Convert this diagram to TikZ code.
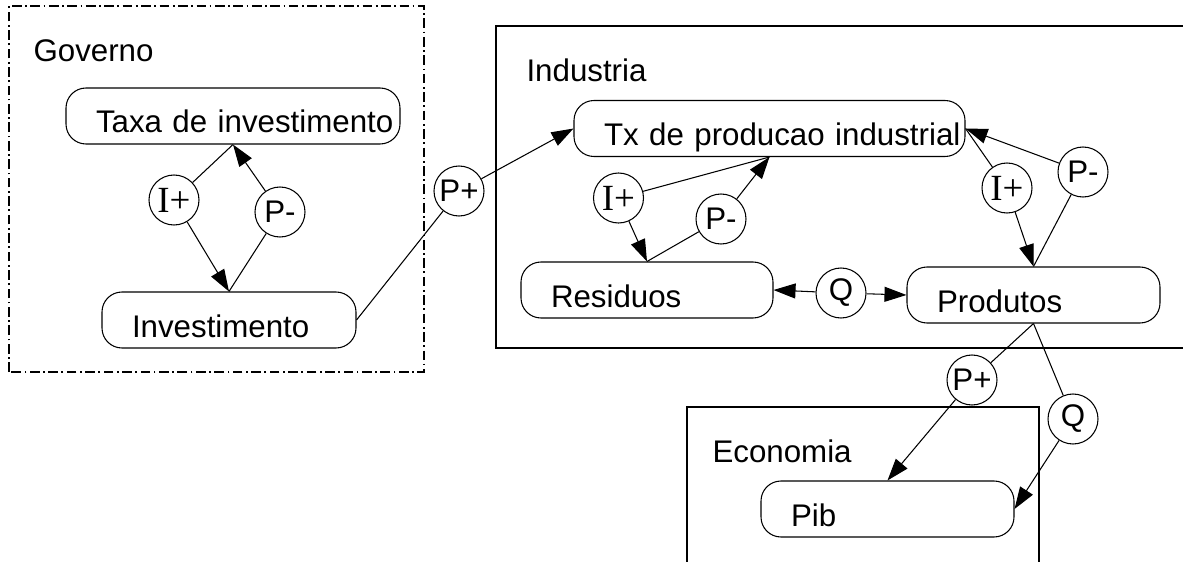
\documentclass[tikz,border=0pt]{standalone}
\usepackage{fontspec}
\setmainfont{Liberation Sans}
\newfontfamily\serifa{Liberation Serif}
\usetikzlibrary{arrows.meta}
\tikzset{
  bloco/.style={draw,rounded corners=0.4cm,minimum height=1.12cm,inner xsep=0pt,inner ysep=0pt,align=left,text height=0.78cm,text depth=0.1cm,execute at begin node={\hspace*{0.6cm}}},
  elo/.style={draw,circle,minimum size=1cm,inner sep=0pt},
  eloi/.style={elo,font=\serifa\fontsize{21}{24}\selectfont},
  rotulo/.style={anchor=base west,inner sep=0pt},
  seta/.style={-{Triangle[length=0.44cm,width=0.3cm]}},
  pontilhado/.style={dash pattern=on 5.5pt off 2pt on 1pt off 2pt}
}

\begin{document}
\begin{tikzpicture}[font=\fontsize{17.8}{21}\selectfont,line width=0.6pt]
\useasboundingbox (0,0) rectangle (23.66,11.22);
\draw[pontilhado] (0.18,3.78) rectangle (8.48,11.10);
\node[rotulo] (governo) at (0.66,9.98) {Governo};
\node[bloco,text width=6.68cm] (taxa) at (4.66,8.90) {Taxa de investimento};
\node[bloco,text width=5.08cm] (inv) at (4.58,4.82) {Investimento};
\node[eloi] (ig) at (3.48,7.22) {I+};
\node[elo] (pg) at (5.60,6.98) {P-};
\draw (taxa.south) -- (ig);
\draw[seta] (ig) -- (inv.north);
\draw (inv.north) -- (pg);
\draw[seta] (pg) -- (taxa.south);

\draw (9.92,4.26) rectangle (24,10.70);
\node[rotulo] (industria) at (10.52,9.58) {Industria};
\node[bloco,text width=7.82cm] (tx) at (15.39,8.65) {Tx de producao industrial};
\node[bloco,text width=5.04cm] (res) at (12.94,5.42) {Residuos};
\node[bloco,text width=5.06cm] (prod) at (20.67,5.32) {Produtos};
\node[elo] (pm) at (9.18,7.40) {P+};
\node[eloi] (ii) at (12.37,7.26) {I+};
\node[elo] (pi) at (14.42,6.84) {P-};
\node[elo] (q) at (16.82,5.36) {Q};
\node[eloi] (ip) at (20.14,7.46) {I+};
\node[elo] (pp) at (21.66,7.78) {P-};
\draw (inv.east) -- (pm);
\draw[seta] (pm) -- (tx.west);
\draw (tx.south) -- (ii);
\draw[seta] (ii) -- (res.north);
\draw (res.north) -- (pi);
\draw[seta] (pi) -- (tx.south);
\draw[seta] (q) -- (res.east);
\draw[seta] (q) -- (prod.west);
\draw (tx.east) -- (ip);
\draw[seta] (ip) -- (prod.north);
\draw (prod.north) -- (pp);
\draw[seta] (pp) -- (tx.east);

\draw (13.74,-0.5) rectangle (20.78,3.08);
\node[rotulo] (economia) at (14.24,1.98) {Economia};
\node[bloco,text width=5.06cm] (pib) at (17.75,1.04) {Pib};
\node[elo] (pe) at (19.44,3.62) {P+};
\node[elo] (qe) at (21.46,2.84) {Q};
\draw (prod.south) -- (pe);
\draw[seta] (pe) -- (pib.north);
\draw (prod.south) -- (qe);
\draw[seta] (qe) -- (pib.east);
\end{tikzpicture}
\end{document}
